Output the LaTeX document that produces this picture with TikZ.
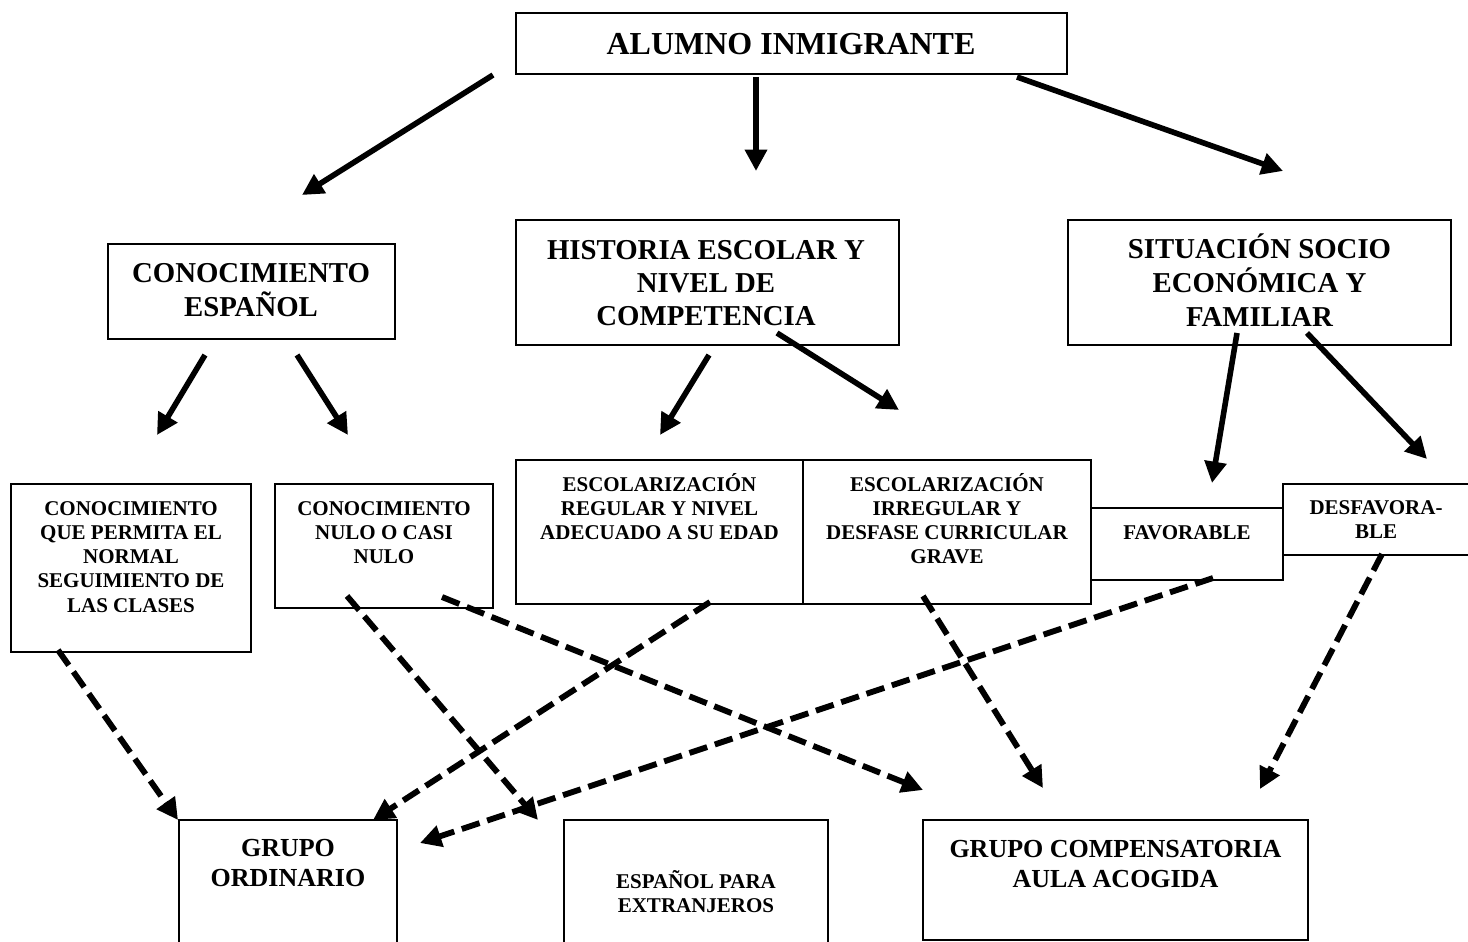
\documentclass[tikz,border=0pt]{standalone}
\usepackage{fontspec}
\setmainfont{Liberation Serif}
\usetikzlibrary{arrows.meta,fit}
\newcommand\mlines[1]{\begin{tabular}[t]{@{}c@{}}#1\end{tabular}}
\begin{document}
\begin{tikzpicture}[x=0.75pt,y=-0.75pt,
  box/.style={draw, line width=1.5pt, inner sep=0pt},
  txt/.style={anchor=base, inner sep=0pt},
  fbig/.style={txt, font=\bfseries\fontsize{24}{27.6}\selectfont},
  ftitle/.style={txt, font=\bfseries\fontsize{21.6}{25}\selectfont},
  fgrupo/.style={txt, font=\bfseries\fontsize{19.5}{22.5}\selectfont},
  fsmall/.style={txt, font=\bfseries\fontsize{15.75}{18.2}\selectfont},
  solidarrow/.style={line width=4.2pt, -{Triangle[length=16pt,width=16pt]}},
  dasharrow/.style={line width=4.4pt, dash pattern=on 14pt off 6pt, -{Triangle[length=16pt,width=16pt]}},
]
\useasboundingbox (0,0) rectangle (1468,942);
\clip (0,0) rectangle (1468,942);

% boxes
\node[box, fit={(516,13) (1067,74)}] (alumno) {};
\node[box, fit={(108,244) (395,339)}] (espanol) {};
\node[box, fit={(516,220) (899,345)}] (historia) {};
\node[box, fit={(1068,220) (1451,345)}] (situacion) {};
\node[box, fit={(11,484) (251,652)}] (permita) {};
\node[box, fit={(275,484) (493,608)}] (nulo) {};
\node[box, fit={(516,460) (803,604)}] (regular) {};
\node[box, fit={(803,460) (1091,604)}] (irregular) {};
\node[box, fit={(1091,508) (1283,580)}] (favorable) {};
\node[box, fit={(1283,484) (1480,555)}] (desfavorable) {};
\node[box, fit={(179,820) (397,970)}] (ordinario) {};
\node[box, fit={(564,820) (828,970)}] (extranjeros) {};
\node[box, fit={(923,820) (1308,940)}] (compensatoria) {};

% texts
\node[fbig] (alumnoT) at (791,55) {ALUMNO INMIGRANTE};
\node[ftitle] (espanolT) at (251,282) {\mlines{CONOCIMIENTO\\ESPAÑOL}};
\node[ftitle] (historiaT) at (706,259) {\mlines{HISTORIA ESCOLAR Y\\NIVEL DE\\COMPETENCIA}};
\node[ftitle] (situacionT) at (1259.5,258) {\mlines{SITUACIÓN SOCIO\\ECONÓMICA Y\\FAMILIAR}};
\node[fsmall] (permitaT) at (131,515) {\mlines{CONOCIMIENTO\\QUE PERMITA EL\\NORMAL\\SEGUIMIENTO DE\\LAS CLASES}};
\node[fsmall] (nuloT) at (384,515) {\mlines{CONOCIMIENTO\\NULO O CASI\\NULO}};
\node[fsmall] (regularT) at (659.5,491) {\mlines{ESCOLARIZACIÓN\\REGULAR Y NIVEL\\ADECUADO A SU EDAD}};
\node[fsmall] (irregularT) at (947,491) {\mlines{ESCOLARIZACIÓN\\IRREGULAR Y\\DESFASE CURRICULAR\\GRAVE}};
\node[fsmall] (favorableT) at (1187,539) {FAVORABLE};
\node[fsmall] (desfavorableT) at (1376,514) {\mlines{DESFAVORA-\\BLE}};
\node[fgrupo] (ordinarioT) at (288,856) {\mlines{GRUPO\\ORDINARIO}};
\node[fsmall] (extranjerosT) at (696,888) {\mlines{ESPAÑOL PARA\\EXTRANJEROS}};
\node[fgrupo] (compensatoriaT) at (1115.5,857) {\mlines{GRUPO COMPENSATORIA\\AULA ACOGIDA}};

% connector end points
\coordinate (a1s) at (493,75);   \coordinate (a1e) at (302,195);
\coordinate (a2s) at (756,77);   \coordinate (a2e) at (756,171);
\coordinate (a3s) at (1017,77);  \coordinate (a3e) at (1283,171);
\coordinate (a4s) at (205,355);  \coordinate (a4e) at (157,435);
\coordinate (a5s) at (297,355);  \coordinate (a5e) at (348,435);
\coordinate (a6s) at (709,355);  \coordinate (a6e) at (660,435);
\coordinate (a7s) at (777,333);  \coordinate (a7e) at (899,410);
\coordinate (a8s) at (1237,333); \coordinate (a8e) at (1212,483);
\coordinate (a9s) at (1307,333); \coordinate (a9e) at (1427,459);

\coordinate (d1s) at (58,650);   \coordinate (d1e) at (178,820);
\coordinate (d2s) at (710,602);  \coordinate (d2e) at (373,820);
\coordinate (d3s) at (347,596);  \coordinate (d3e) at (538,820);
\coordinate (d4s) at (442,597);  \coordinate (d4e) at (923,790);
\coordinate (d5s) at (1213,578); \coordinate (d5e) at (420,843);
\coordinate (d6s) at (923,596);  \coordinate (d6e) at (1043,788);
\coordinate (d7s) at (1382,554); \coordinate (d7e) at (1260,789);

\draw[solidarrow] (a1s) -- (a1e);
\draw[solidarrow] (a2s) -- (a2e);
\draw[solidarrow] (a3s) -- (a3e);
\draw[solidarrow] (a4s) -- (a4e);
\draw[solidarrow] (a5s) -- (a5e);
\draw[solidarrow] (a6s) -- (a6e);
\draw[solidarrow] (a7s) -- (a7e);
\draw[solidarrow] (a8s) -- (a8e);
\draw[solidarrow] (a9s) -- (a9e);

\draw[dasharrow] (d1s) -- (d1e);
\draw[dasharrow] (d2s) -- (d2e);
\draw[dasharrow] (d3s) -- (d3e);
\draw[dasharrow] (d4s) -- (d4e);
\draw[dasharrow] (d5s) -- (d5e);
\draw[dasharrow] (d6s) -- (d6e);
\draw[dasharrow] (d7s) -- (d7e);
\end{tikzpicture}
\end{document}
